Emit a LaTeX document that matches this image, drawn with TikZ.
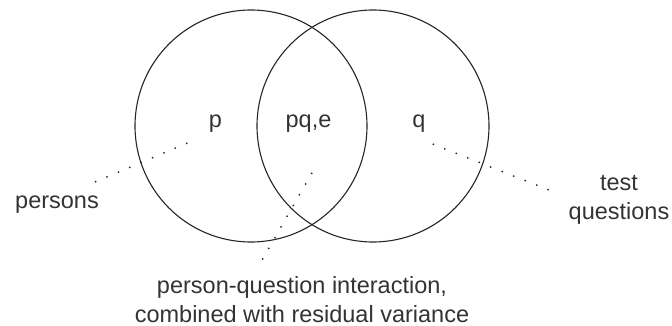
\documentclass[tikz,border=0pt]{standalone}
\usepackage{fontspec}
\setmainfont{Liberation Sans}
\begin{document}
\begin{tikzpicture}[x=1pt,y=-1pt]

\tikzstyle{venn}=[shape=circle, draw=black!85, line width=1.1pt,
    minimum size=232pt, inner sep=0pt]
\tikzstyle{txt}=[text=black!80, anchor=base, inner sep=0pt, align=center]
\tikzstyle{dotline}=[draw=black!85, line width=2pt, line cap=round,
    dash pattern=on 0pt off 12.35pt]
  \fontsize{23.5}{29.5}\selectfont
  \useasboundingbox (0,0) rectangle (672,326);

  \node[venn] (personset) at (251,126) {};
  \node[venn] (questionset) at (373,126) {};

  \node[txt] (p) at (215.5,128) {p};
  \node[txt] (pq) at (308.5,128) {pq,e};
  \node[txt] (q) at (419,128) {q};

  % base of a two-line node is its last line
  \node[txt] (persons) at (57,208) {persons};
  \node[txt] (test) at (619,219.5) {test\\questions};
  \node[txt] (interaction) at (302,322.5) {person-question interaction,\\combined with residual variance};

  % ends of the dotted lines
  \coordinate (p-dot) at (186.7,143.3);
  \coordinate (persons-dot) at (95.5,181.8);
  \coordinate (q-dot) at (433.3,144.3);
  \coordinate (test-dot) at (549.2,190.1);
  \coordinate (pq-dot) at (311.7,173.3);
  \coordinate (interaction-dot) at (262.5,259.3);

  \draw[dotline] (p-dot) -- (persons-dot);
  \draw[dotline] (q-dot) -- (test-dot);
  \draw[dotline] (pq-dot) -- (interaction-dot);

\end{tikzpicture}
\end{document}
